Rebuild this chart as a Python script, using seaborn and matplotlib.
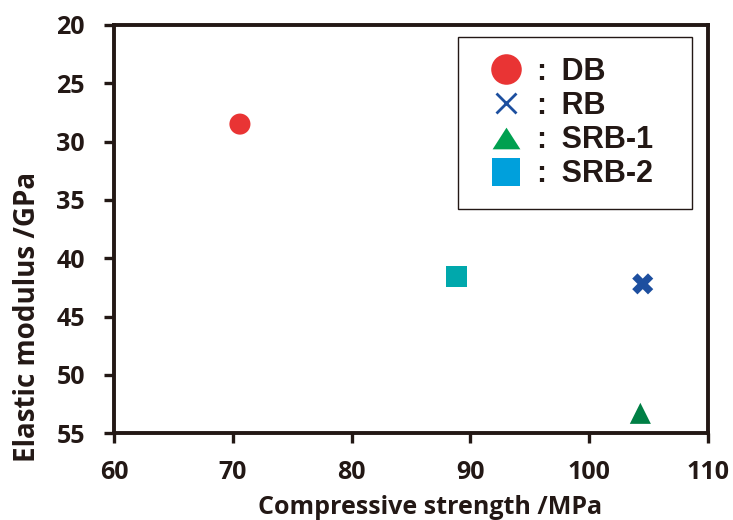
import pandas as pd
import seaborn as sns
import matplotlib.pyplot as plt
from matplotlib.lines import Line2D

sns.set_style('white')
plt.rcParams['font.family'] = ['Open Sans', 'DejaVu Sans']

# data
samples = ['DB', 'RB', 'SRB-1', 'SRB-2']
strength = [70.6, 104.5, 104.3, 88.8]
modulus = [28.5, 42.2, 53.3, 41.6]

point_colors = {'DB': '#E93434', 'RB': '#1D4F9F', 'SRB-1': '#007F45', 'SRB-2': '#00A8AC'}
legend_colors = {'DB': '#E93434', 'RB': '#1D4F9F', 'SRB-1': '#00A050', 'SRB-2': '#00A0DC'}
point_markers = {'DB': 'o', 'RB': 'X', 'SRB-1': '^', 'SRB-2': 's'}
# legend triangle is wider than tall
flat_triangle = [(-1, -0.78), (1, -0.78), (0, 0.78)]
legend_markers = {'DB': ('o', 22), 'RB': ('x', 14), 'SRB-1': (flat_triangle, 20),
                  'SRB-2': ('s', 19.5)}

INK = '#231815'


def main():
    data = pd.DataFrame({'Sample': samples, 'Strength': strength, 'Modulus': modulus})

    fig = plt.figure(figsize=(7.33, 5.2), dpi=100)
    ax = fig.add_axes([0.1555, 0.167, 0.8105, 0.785])

    sns.scatterplot(data=data, x='Strength', y='Modulus', hue='Sample', style='Sample',
                    palette=point_colors, markers=point_markers, s=230,
                    edgecolor='none', legend=False, ax=ax)

    ax.set_xlim(60, 110)
    ax.set_ylim(55, 20)
    ax.set_xticks(range(60, 111, 10))
    ax.set_yticks(range(20, 56, 5))
    ax.set_xlabel('Compressive strength /MPa', fontsize=18, fontweight='bold', color=INK)
    ax.set_ylabel('Elastic modulus /GPa', fontsize=20, fontweight='bold', color=INK)
    ax.xaxis.set_label_coords(0.532, -0.152)
    ax.yaxis.set_label_coords(-0.122, 0.284)
    ax.tick_params(axis='both', direction='out', length=7, width=2.4, color=INK,
                   labelsize=18, labelcolor=INK, bottom=True, left=True)
    ax.tick_params(axis='x', pad=12)
    ax.tick_params(axis='y', pad=14)
    for lab in ax.get_xticklabels() + ax.get_yticklabels():
        lab.set_fontweight('bold')
    for side in ax.spines.values():
        side.set_linewidth(2.8)
        side.set_color(INK)

    handles = []
    for name in samples:
        m, size = legend_markers[name]
        handles.append(Line2D([], [], linestyle='none', marker=m, markersize=size,
                              markeredgewidth=2 if m == 'x' else 0,
                              color=legend_colors[name],
                              label=':\u2009 ' + name))
    leg = ax.legend(handles=handles, loc='upper left',
                    bbox_to_anchor=(0.579, 0.559, 0.394, 0.412), mode='expand',
                    borderaxespad=0, frameon=True, fancybox=False, edgecolor=INK,
                    framealpha=1, handletextpad=0.1, labelspacing=0.14,
                    borderpad=0.65, handlelength=1.85,
                    prop={'family': ['Liberation Sans', 'DejaVu Sans'],
                          'weight': 'bold', 'size': 22})
    leg.get_frame().set_linewidth(1.0)
    for t in leg.get_texts():
        t.set_color(INK)

    fig.savefig('out.png', dpi=100)


if __name__ == '__main__':
    main()
